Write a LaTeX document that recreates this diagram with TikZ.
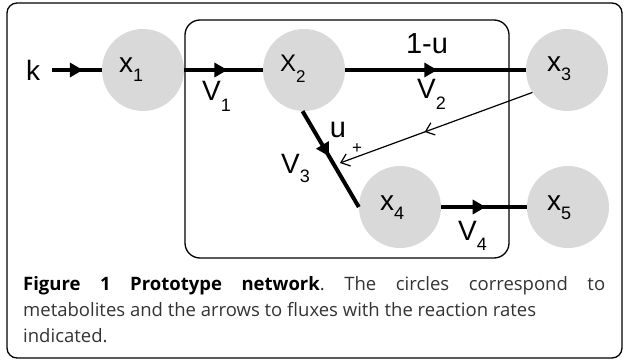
\documentclass[tikz,border=0pt]{standalone}
\usepackage{fontspec}
\setmainfont{Liberation Sans}
\newfontfamily\capfont{Open Sans}
\usetikzlibrary{arrows.meta,decorations.markings}
\definecolor{circ}{HTML}{D9D9D9}
\definecolor{captxt}{HTML}{333333}
\frenchspacing
\newcommand{\fsz}[1]{\fontsize{#1}{#1}\selectfont}
\newcommand{\lbl}[5]{{\fsz{#1}#2}\raisebox{-#5pt}{\fsz{#3}#4}}
\begin{document}
\begin{tikzpicture}[x=1pt,y=-1pt,
  metab/.style={circle,fill=circ,minimum size=82pt,inner sep=0pt},
  flux/.style={line width=4pt,postaction={decorate},
    decoration={markings,mark=at position #1 with {\arrow{Triangle[length=13pt,width=14pt]}}}},
  reg/.style={line width=1.2pt,-{Straight Barb[length=8pt,width=13pt]},postaction={decorate},
    decoration={markings,mark=at position #1 with {\arrow{Straight Barb[length=8pt,width=13pt]}}}},
  lab/.style={inner sep=0pt},
  frame/.style={line width=1.3pt}
]
\useasboundingbox (0,0) rectangle (624,361);
\draw[frame,rounded corners=10pt] (7,3) rectangle (622,358);
\draw[frame,rounded corners=15pt] (185,20) rectangle (509,258);

\node[metab] (c1) at (143,70) {};
\node[metab] (c2) at (304,70) {};
\node[metab] (c3) at (567,70) {};
\node[metab] (c4) at (400,207) {};
\node[metab] (c5) at (568,207) {};

\node[lab] (k) at (33,70) {\fsz{28}k};
\coordinate (kend) at (52,70);
\coordinate (tgt) at (340,163);

\draw[flux=0.62] (kend) -- (c1.west);
\draw[flux=0.55] (c1.east) -- (c2.west);
\draw[flux=0.51] (c2.east) -- (c3.west);
\draw[flux=0.47] (c2.-92) -- (c4.west);
\draw[flux=0.52] (c4.east) -- (c5.west);
\draw[reg=0.56] (c3.213) -- (tgt);

\node[lab,anchor=base west] (l1) at (119,73) {\lbl{28}{x}{18}{1}{9}};
\node[lab,anchor=base west] (l2) at (280,72) {\lbl{24}{X}{17}{2}{10}};
\node[lab,anchor=base west] (l3) at (547,72) {\lbl{28}{x}{18}{3}{9}};
\node[lab,anchor=base west] (l4) at (380,210) {\lbl{28}{x}{18}{4}{9}};
\node[lab,anchor=base west] (l5) at (547,210) {\lbl{28}{x}{18}{5}{9}};

\node[lab,anchor=base west] (v1) at (202,100) {\lbl{28}{V}{18}{1}{11}};
\node[lab,anchor=base west] (v2) at (417,99) {\lbl{28}{V}{18}{2}{11}};
\node[lab,anchor=base west] (v3) at (281,173) {\lbl{28}{V}{18}{3}{9}};
\node[lab,anchor=base west] (v4) at (458,240) {\lbl{28}{V}{18}{4}{10}};

\node[lab] (omu) at (427,44) {\fsz{29}1-u};
\node[lab] (u) at (338,130) {\fsz{29}u};
\node[lab] (plus) at (357,149) {\fsz{17}+};

\node[anchor=base west,inner sep=0pt,font=\capfont\fsz{18.5}] (cap1) at (23,290)
  {\makebox[582pt][s]{\textbf{Figure 1 Prototype network}\textcolor{captxt}{. The circles correspond to}}};
\node[anchor=base west,inner sep=0pt,font=\capfont\fsz{18.5},text=captxt] (cap2) at (23,316)
  {metabolites and the arrows to fluxes with the reaction rates};
\node[anchor=base west,inner sep=0pt,font=\capfont\fsz{18.5},text=captxt] (cap3) at (23,342)
  {indicated.};
\end{tikzpicture}
\end{document}
